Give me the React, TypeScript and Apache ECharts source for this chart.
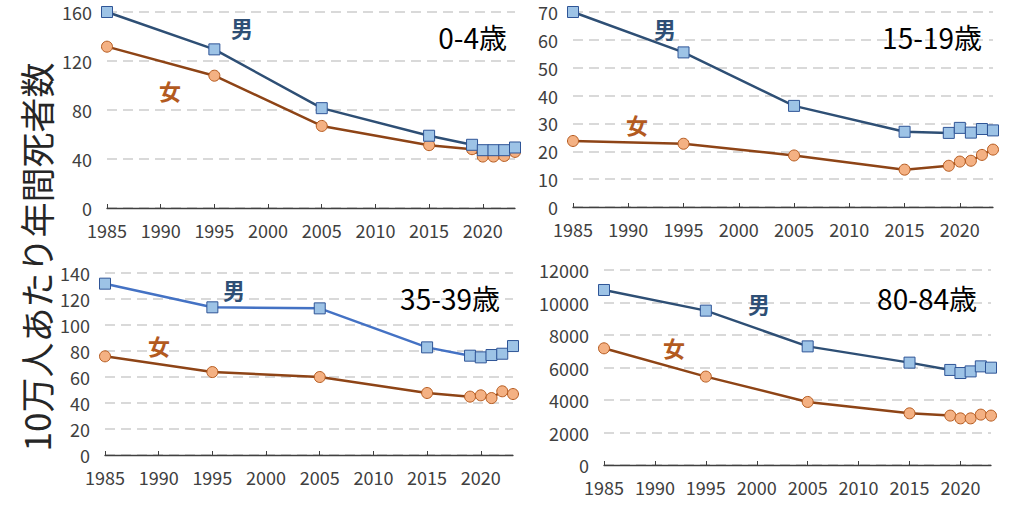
import React, { useEffect, useRef } from "react";
import * as echarts from "echarts";

const years = [1985, 1995, 2005, 2015, 2019, 2020, 2021, 2022, 2023];
const xTickYears = [1985, 1990, 1995, 2000, 2005, 2010, 2015, 2020];

const male0_4 = [160, 129.5, 81.5, 59, 51.6, 47.2, 47.2, 47.2, 49.4];
const female0_4 = [131.7, 108, 67, 51.3, 48, 42, 42, 42.5, 45.8];
const male15_19 = [70, 55.5, 36.3, 27.0, 26.6, 28.4, 26.7, 28.0, 27.5];
const female15_19 = [23.7, 22.7, 18.5, 13.4, 14.8, 16.3, 16.6, 18.7, 20.6];
const male35_39 = [131.8, 113.6, 112.8, 82.8, 76.4, 75.1, 76.9, 77.9, 83.8];
const female35_39 = [75.9, 63.8, 60, 47.7, 44.9, 45.9, 43.8, 49, 46.9];
const male80_84 = [10770, 9500, 7300, 6300, 5850, 5660, 5760, 6070, 5990];
const female80_84 = [7180, 5440, 3880, 3180, 3040, 2870, 2870, 3100, 3040];

const panelLabels = ["0-4歳", "15-19歳", "35-39歳", "80-84歳"];
const yMax = [160, 70, 140, 12000];
const yInterval = [40, 10, 20, 2000];
const maleLabel = "男";
const femaleLabel = "女";
const yTitle = "10万人あたり年間死者数";

const FONT = "'Noto Sans CJK JP', 'Noto Sans', sans-serif";

export default function App() {
  const ref = useRef<HTMLDivElement>(null);
  useEffect(() => {
    if (!ref.current) return;
    const chart = echarts.init(ref.current, null, { renderer: "svg" });

    const grids = [
      { left: 107, top: 12, width: 408, height: 196 },
      { left: 573, top: 12, width: 420, height: 195 },
      { left: 105, top: 273, width: 408, height: 182 },
      { left: 604, top: 270, width: 387, height: 195 },
    ];
    const maleData = [male0_4, male15_19, male35_39, male80_84];
    const femaleData = [female0_4, female15_19, female35_39, female80_84];
    const maleLineColors = ["#2E4F75", "#2E4F75", "#4472C4", "#2E4F75"];

    const xAxes = grids.map((_, i) => ({
      type: "value",
      gridIndex: i,
      min: 1985,
      max: 2023,
      interval: 5,
      axisLine: { show: true, lineStyle: { color: "#404040", width: 1.3 } },
      axisTick: {
        show: true,
        inside: true,
        length: 4,
        customValues: xTickYears,
        lineStyle: { color: "#404040" },
      },
      axisLabel: {
        customValues: xTickYears,
        color: "#404040",
        fontSize: 18,
        fontFamily: FONT,
        margin: 13,
        formatter: (v: number) => String(v),
      },
      splitLine: { show: false },
    }));

    const yAxes = grids.map((_, i) => ({
      type: "value",
      gridIndex: i,
      min: 0,
      max: yMax[i],
      interval: yInterval[i],
      axisLine: { show: false },
      axisTick: { show: false },
      axisLabel: {
        color: "#404040",
        fontSize: 18,
        fontFamily: FONT,
        margin: 15,
        formatter: (v: number) => String(v),
      },
      splitLine: {
        show: true,
        lineStyle: { color: "#D9D9D9", width: 2, type: [10, 6] },
      },
    }));

    const series: any[] = [];
    grids.forEach((_, i) => {
      series.push({
        type: "line",
        xAxisIndex: i,
        yAxisIndex: i,
        data: years.map((y, k) => [y, femaleData[i][k]]),
        symbol: "circle",
        symbolSize: 11,
        z: 2,
        lineStyle: { color: "#8E4416", width: 2.5 },
        itemStyle: { color: "#F4B183", borderColor: "#B55A1E", borderWidth: 1 },
      });
      series.push({
        type: "line",
        xAxisIndex: i,
        yAxisIndex: i,
        data: years.map((y, k) => [y, maleData[i][k]]),
        symbol: "rect",
        symbolSize: 11,
        z: 3,
        lineStyle: { color: maleLineColors[i], width: 2.5 },
        itemStyle: { color: "#9DC3E6", borderColor: "#2F5597", borderWidth: 1 },
      });
    });

    const maleColor = "#2E4F75";
    const femaleColor = "#B35A1F";
    const sexPos = [
      { m: [242, 27], f: [170, 90] },
      { m: [665, 28], f: [637, 124] },
      { m: [234, 289], f: [159, 345] },
      { m: [759, 303], f: [674, 347] },
    ];
    const agePos = [
      [507, 37],
      [982, 37],
      [500, 298],
      [977, 298],
    ];

    const graphic: any[] = [];
    sexPos.forEach((p) => {
      graphic.push({
        type: "text",
        x: p.m[0],
        y: p.m[1],
        style: {
          text: maleLabel,
          fill: maleColor,
          font: `bold 22px ${FONT}`,
          textAlign: "center",
          textVerticalAlign: "middle",
        },
        z: 10,
      });
      graphic.push({
        type: "text",
        x: p.f[0],
        y: p.f[1],
        style: {
          text: femaleLabel,
          fill: femaleColor,
          font: `bold 22px ${FONT}`,
          textAlign: "center",
          textVerticalAlign: "middle",
        },
        z: 10,
      });
    });
    agePos.forEach((p, i) => {
      graphic.push({
        type: "text",
        x: p[0],
        y: p[1],
        style: {
          text: panelLabels[i],
          fill: "#000000",
          font: `28px ${FONT}`,
          textAlign: "right",
          textVerticalAlign: "middle",
        },
        z: 10,
      });
    });
    graphic.push({
      type: "text",
      x: 35,
      y: 257,
      rotation: Math.PI / 2,
      style: {
        text: yTitle,
        fill: "#262626",
        font: `35px ${FONT}`,
        textAlign: "center",
        textVerticalAlign: "middle",
      },
      z: 10,
    });

    chart.setOption({
      animation: false,
      backgroundColor: "#ffffff",
      grid: grids,
      xAxis: xAxes,
      yAxis: yAxes,
      series,
      graphic,
    });
    return () => chart.dispose();
  }, []);

  return (
    <div
      ref={ref}
      style={{ position: "fixed", left: 0, top: 0, width: 1024, height: 505 }}
    />
  );
}
